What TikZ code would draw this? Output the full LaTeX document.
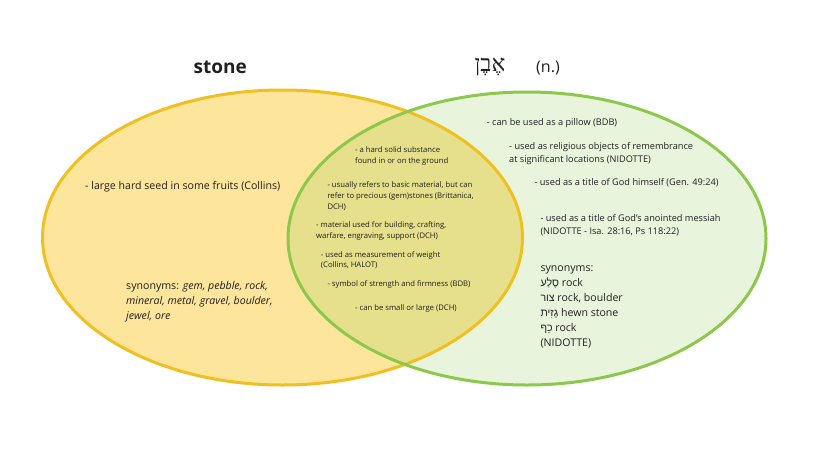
\documentclass[tikz,border=0pt]{standalone}
\usepackage{fontspec}
\setmainfont{Open Sans}
\newfontfamily\hebfont[Script=Hebrew]{Liberation Sans}
\newfontfamily\hebtitle[Script=Hebrew]{Liberation Serif}
\TeXXeTstate=1
\definecolor{yfill}{HTML}{FDE59C}
\definecolor{ystroke}{HTML}{EFC020}
\definecolor{gstroke}{HTML}{8CC84B}
\definecolor{txt}{HTML}{202020}
\tikzset{
  lbl/.style={anchor=west, inner sep=0pt, align=left, text=txt},
  midtxt/.style={lbl, font=\fontsize{7.7}{10.8}\selectfont},
  righttxt/.style={lbl, font=\fontsize{9.2}{12.8}\selectfont},
  bigtxt/.style={lbl, font=\fontsize{10.6}{15}\selectfont},
}
\begin{document}
\begin{tikzpicture}[x=1pt,y=-1pt]
\useasboundingbox (0,0) rectangle (825,453);
% ellipses
\fill[yfill] (282.5,237.5) ellipse [x radius=240pt, y radius=147.5pt];
\fill[gstroke, fill opacity=0.2] (527,238.5) ellipse [x radius=239pt, y radius=146.5pt];
\draw[ystroke, line width=3pt] (282.5,237.5) ellipse [x radius=240pt, y radius=147.5pt];
\draw[gstroke, line width=3pt] (527,238.5) ellipse [x radius=239pt, y radius=146.5pt];
% titles
\node[inner sep=0pt, text=txt, font=\fontsize{19}{22}\selectfont\bfseries] (stone) at (220.3,67) {stone};
\node[inner sep=0pt, text=txt, font=\fontsize{23}{26}\selectfont\hebtitle] (even) at (490,67) {\beginR אֶבֶן\endR};
\node[inner sep=0pt, text=txt, font=\fontsize{16}{19}\selectfont] (pos) at (548,68) {(n.)};
% left only
\node[bigtxt] (seed) at (85,187) {- large hard seed in some fruits (Collins)};
\node[bigtxt] (lsyn) at (126,301.8) {synonyms: \textit{gem, pebble, rock,}\\\textit{mineral, metal, gravel, boulder,}\\\textit{jewel, ore}};
% intersection
\node[midtxt] (ma) at (355,156.3) {- a hard solid substance\\found in or on the ground};
\node[midtxt] (mb) at (327.3,196) {- usually refers to basic material, but can\\refer to precious (gem)stones (Brittanica,\\DCH)};
\node[midtxt] (mc) at (316,230.7) {- material used for building, crafting,\\warfare, engraving, support (DCH)};
\node[midtxt] (md) at (320.7,260.2) {- used as measurement of weight\\(Collins, HALOT)};
\node[midtxt] (me) at (327.3,284.3) {- symbol of strength and firmness (BDB)};
\node[midtxt] (mf) at (355,308.7) {- can be small or large (DCH)};
% right only
\node[righttxt] (ra) at (486.7,122.7) {- can be used as a pillow (BDB)};
\node[righttxt] (rb) at (509,153.8) {- used as religious objects of remembrance\\at significant locations (NIDOTTE)};
\node[righttxt] (rc) at (534.3,183) {- used as a title of God himself (Gen. 49:24)};
\node[righttxt] (rd) at (540.3,225.3) {- used as a title of God's anointed messiah\\(NIDOTTE - Isa. 28:16, Ps 118:22)};
\node[bigtxt] (rsyn) at (540.3,306.8) {synonyms:\\{\hebfont\beginR סֶלַע\endR} rock\\{\hebfont\beginR צור\endR} rock, boulder\\{\hebfont\beginR גָזִית\endR} hewn stone\\{\hebfont\beginR כֵף\endR} rock\\(NIDOTTE)};
\end{tikzpicture}
\end{document}
